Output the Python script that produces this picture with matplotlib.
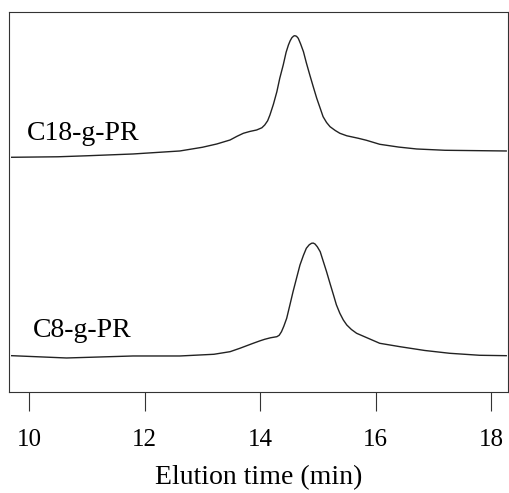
import matplotlib

matplotlib.use("Agg")
import matplotlib.pyplot as plt

plt.rcParams["font.family"] = ["Liberation Serif", "DejaVu Serif"]

# elution time (min) and detector signal (a.u.)
C18_TIME = [9.70, 10.5, 11.0, 11.8, 12.61, 13.0, 13.25, 13.48, 13.60, 13.71,
            13.82, 13.94, 14.03, 14.08, 14.13, 14.17, 14.23, 14.29, 14.34,
            14.40, 14.45, 14.49, 14.52, 14.55, 14.58, 14.60, 14.63, 14.66,
            14.70, 14.75, 14.80, 14.86, 14.92, 14.98, 15.04, 15.09, 15.15,
            15.21, 15.30, 15.38, 15.50, 15.70, 15.84, 16.07, 16.40, 16.71,
            17.2, 18.26]
C18_SIGNAL = [2.35, 2.355, 2.365, 2.383, 2.413, 2.45, 2.483, 2.523, 2.560,
              2.590, 2.608, 2.623, 2.645, 2.673, 2.715, 2.773, 2.880, 3.006,
              3.140, 3.273, 3.400, 3.473, 3.515, 3.546, 3.562, 3.566, 3.560,
              3.540, 3.485, 3.406, 3.295, 3.173, 3.055, 2.940, 2.840, 2.756,
              2.698, 2.656, 2.618, 2.590, 2.565, 2.540, 2.520, 2.480, 2.452,
              2.433, 2.420, 2.413]

C8_TIME = [9.70, 10.65, 11.80, 12.61, 13.20, 13.48, 13.65, 13.88, 14.00,
           14.08, 14.18, 14.29, 14.33, 14.37, 14.41, 14.46, 14.51, 14.57,
           14.63, 14.69, 14.75, 14.80, 14.85, 14.89, 14.92, 14.95, 14.99,
           15.04, 15.09, 15.15, 15.21, 15.27, 15.32, 15.38, 15.44, 15.50,
           15.58, 15.67, 15.87, 16.07, 16.42, 16.85, 17.28, 17.8, 18.26]
C8_SIGNAL = [0.366, 0.343, 0.363, 0.363, 0.380, 0.406, 0.440, 0.490, 0.515,
             0.530, 0.545, 0.556, 0.570, 0.606, 0.660, 0.740, 0.860, 1.006,
             1.140, 1.273, 1.370, 1.440, 1.475, 1.490, 1.492, 1.483, 1.455,
             1.406, 1.315, 1.206, 1.088, 0.973, 0.875, 0.790, 0.723, 0.673,
             0.628, 0.590, 0.540, 0.490, 0.456, 0.418, 0.390, 0.370, 0.366]

SAMPLE_LABELS = ["C18-g-PR", "C8-g-PR"]
LABEL_POS = [(9.96, 2.52), (10.07, 0.556)]
X_TICKS = [10, 12, 14, 16, 18]


def main() -> None:
    fig = plt.figure(figsize=(5.10, 4.93), dpi=100)
    ax = fig.add_axes([0.0167, 0.2043, 0.9793, 0.7714])

    ax.plot(C18_TIME, C18_SIGNAL, color="#222222", lw=1.0)
    ax.plot(C8_TIME, C8_SIGNAL, color="#222222", lw=1.0)

    for text, (x, y) in zip(SAMPLE_LABELS, LABEL_POS):
        ax.text(x, y, text, fontsize=20, va="baseline", ha="left")

    ax.set_xlim(9.645, 18.29)
    ax.set_ylim(0, 3.803)
    ax.set_xticks(X_TICKS)
    ax.set_yticks([])
    ax.tick_params(axis="x", direction="out", length=13.5, width=0.8,
                   pad=13, labelsize=18, color="#333333")
    for spine in ax.spines.values():
        spine.set_linewidth(0.8)
        spine.set_color("#333333")
    ax.set_xlabel("Elution time (min)", fontsize=20, labelpad=10)

    fig.savefig("out.png", dpi=100)
    plt.close(fig)


if __name__ == "__main__":
    main()
